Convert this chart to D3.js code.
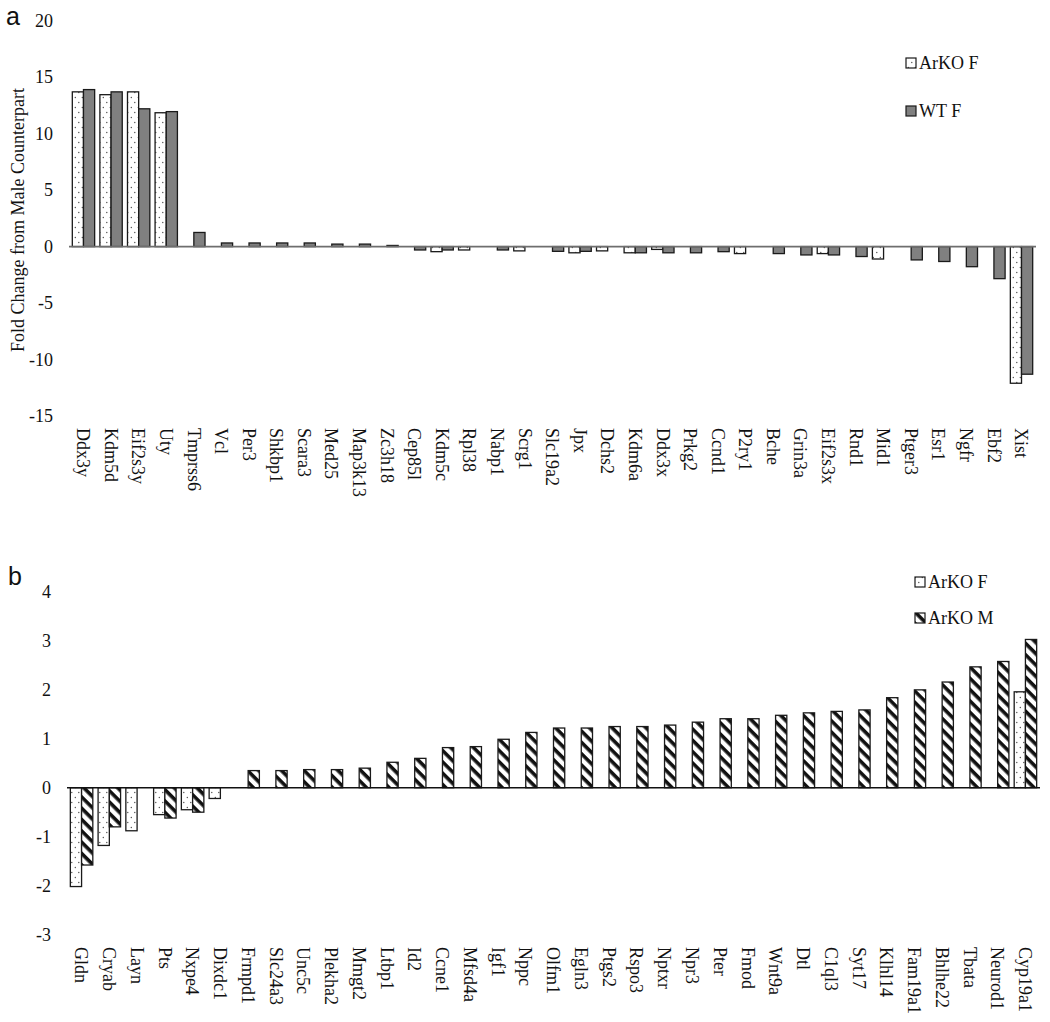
<!DOCTYPE html>
<html><head><meta charset="utf-8">
<script src="https://cdn.jsdelivr.net/npm/d3@7"></script>
<style>
body{margin:0;background:#fff}
svg text{font-family:"Liberation Serif","Times New Roman",serif;fill:#111}
svg text.letter{font-family:"Liberation Sans",Arial,sans-serif}
</style>
</head><body>
<svg id="chart" width="1050" height="1022"></svg>
<script>
// ---------- Panel a data ----------
const genesA = ["Ddx3y","Kdm5d","Eif2s3y","Uty","Tmprss6","Vcl","Per3","Shkbp1","Scara3","Med25","Map3k13","Zc3h18","Cep85l","Kdm5c","Rpl38","Nabp1","Scrg1","Slc19a2","Jpx","Dchs2","Kdm6a","Ddx3x","Prkg2","Ccnd1","P2ry1","Bche","Grin3a","Eif2s3x","Rnd1","Mid1","Ptger3","Esr1","Ngfr","Ebf2","Xist"];
const arkoF_A = [13.7,13.45,13.7,11.85,null,null,null,null,null,null,null,null,null,-0.45,-0.3,null,-0.38,null,-0.55,-0.38,-0.55,-0.25,null,null,-0.62,null,null,-0.62,null,-1.1,null,null,null,null,-12.1];
const wtF_A   = [13.9,13.7,12.2,11.95,1.25,0.32,0.32,0.32,0.32,0.22,0.22,0.1,-0.3,-0.3,null,-0.3,null,-0.42,-0.42,null,-0.55,-0.55,-0.55,-0.45,null,-0.62,-0.74,-0.74,-0.88,null,-1.18,-1.32,-1.78,-2.84,-11.3];
const ticksA = [20,15,10,5,0,-5,-10,-15];
const seriesNamesA = ["ArKO F","WT F"];

// ---------- Panel b data ----------
const genesB = ["Gldn","Cryab","Layn","Pts","Nxpe4","Dixdc1","Frmpd1","Slc24a3","Unc5c","Plekha2","Mmgt2","Ltbp1","Id2","Ccne1","Mfsd4a","Igf1","Nppc","Olfm1","Egln3","Ptgs2","Rspo3","Nptxr","Npr3","Pter","Fmod","Wnt9a","Dtl","C1ql3","Syt17","Klhl14","Fam19a1","Bhlhe22","Tbata","Neurod1","Cyp19a1"];
const arkoF_B = [-2.02,-1.18,-0.88,-0.55,-0.45,-0.22,null,null,null,null,null,null,null,null,null,null,null,null,null,null,null,null,null,null,null,null,null,null,null,null,null,null,null,null,1.96];
const arkoM_B = [-1.58,-0.8,null,-0.62,-0.5,null,0.35,0.35,0.37,0.37,0.4,0.52,0.6,0.82,0.84,0.99,1.13,1.22,1.22,1.25,1.25,1.28,1.34,1.41,1.41,1.48,1.53,1.56,1.59,1.84,2.0,2.16,2.47,2.58,3.03];
const ticksB = [4,3,2,1,0,-1,-2,-3];
const seriesNamesB = ["ArKO F","ArKO M"];

const SERIF = "'Liberation Serif','Times New Roman',serif";
const svg = d3.select("#chart");
const defs = svg.append("defs");

// dotted white pattern (ArKO F)
const pDot = defs.append("pattern").attr("id","dots").attr("patternUnits","userSpaceOnUse")
  .attr("width",7).attr("height",10);
pDot.append("rect").attr("width",7).attr("height",10).attr("fill","#fff");
pDot.append("circle").attr("cx",1.8).attr("cy",2.5).attr("r",0.65).attr("fill","#444");
pDot.append("circle").attr("cx",5.3).attr("cy",7.5).attr("r",0.65).attr("fill","#444");

// diagonal hatch pattern (ArKO M)
const pHatch = defs.append("pattern").attr("id","hatch").attr("patternUnits","userSpaceOnUse")
  .attr("width",8).attr("height",8).attr("patternTransform","rotate(45)");
pHatch.append("rect").attr("width",8).attr("height",8).attr("fill","#fff");
pHatch.append("rect").attr("y",0).attr("width",8).attr("height",3.6).attr("fill","#111");

function drawPanel(cfg){
  const g = svg.append("g");
  const x = d3.scaleBand().domain(cfg.genes).range(cfg.xRange).paddingInner(0.19).paddingOuter(0.12);
  const y = d3.scaleLinear().domain([cfg.ticks[cfg.ticks.length-1], cfg.ticks[0]]).range(cfg.yRange);
  const bw = x.bandwidth()/2;

  // y axis (labels only)
  const ya = g.append("g").attr("transform",`translate(${cfg.xRange[0]},0)`)
    .call(d3.axisLeft(y).tickValues(cfg.ticks).tickSize(0).tickPadding(16).tickFormat(d=>String(d)));
  ya.attr("font-family",SERIF).attr("font-size",18);
  ya.select(".domain").remove();
  ya.selectAll("text").attr("font-size",18).attr("font-family",SERIF).style("font-family",SERIF).attr("fill","#111");

  // bars
  cfg.series.forEach((s,si)=>{
    const data = cfg.genes.map((gn,i)=>({g:gn,v:s.values[i]})).filter(d=>d.v!==null);
    g.append("g").selectAll("rect").data(data).join("rect")
      .attr("x",d=>x(d.g)+si*bw)
      .attr("y",d=>y(Math.max(0,d.v)))
      .attr("width",bw)
      .attr("height",d=>Math.abs(y(d.v)-y(0)))
      .attr("fill",s.fill)
      .attr("stroke","#1a1a1a").attr("stroke-width",1.3);
  });

  // zero line
  g.append("line").attr("x1",cfg.xRange[0]).attr("x2",cfg.lineEnd)
    .attr("y1",y(0)).attr("y2",y(0)).attr("stroke",cfg.zeroColor).attr("stroke-width",1.6);

  // category labels
  const xa = g.append("g").attr("transform",`translate(0,${cfg.labelTop})`)
    .call(d3.axisBottom(x).tickSize(0).tickPadding(0));
  xa.attr("font-family",SERIF).attr("font-size",18);
  xa.select(".domain").remove();
  xa.selectAll("text")
    .attr("font-size",18).attr("font-family",SERIF).style("font-family",SERIF).attr("fill","#111")
    .attr("text-anchor","start").attr("transform","rotate(90)")
    .attr("x",0).attr("y",0).attr("dy","0.35em");

  // legend
  cfg.series.forEach((s,si)=>{
    const ly = cfg.legend.y[si];
    g.append("rect").attr("x",cfg.legend.x).attr("y",ly-5).attr("width",10).attr("height",10)
      .attr("fill",s.fill).attr("stroke","#1a1a1a").attr("stroke-width",1.2);
    g.append("text").attr("x",cfg.legend.x+13).attr("y",ly).attr("dy","0.35em")
      .attr("font-family",SERIF).style("font-family",SERIF)
      .attr("font-size",18).text(s.name);
  });

  // panel letter
  svg.append("text").attr("class","letter").attr("x",cfg.letter[0]).attr("y",cfg.letter[1])
    .attr("font-size",25).text(cfg.letterText);
  return {x,y};
}

drawPanel({
  genes:genesA,
  series:[{name:seriesNamesA[0],values:arkoF_A,fill:"url(#dots)"},{name:seriesNamesA[1],values:wtF_A,fill:"#808080"}],
  ticks:ticksA, yRange:[416,20.7], xRange:[69,1036], lineEnd:1036,
  zeroColor:"#6e6e6e", labelTop:428,
  legend:{x:906,y:[63,111]}, letter:[6,25], letterText:"a"
});
drawPanel({
  genes:genesB,
  series:[{name:seriesNamesB[0],values:arkoF_B,fill:"url(#dots)"},{name:seriesNamesB[1],values:arkoM_B,fill:"url(#hatch)"}],
  ticks:ticksB, yRange:[934.5,592], xRange:[67,1040], lineEnd:1040,
  zeroColor:"#111", labelTop:947,
  legend:{x:915,y:[582,618]}, letter:[8,585], letterText:"b"
});

// y-axis title panel a
svg.append("text").attr("transform","translate(18,220) rotate(-90)")
  .attr("text-anchor","middle").attr("dy","0.35em").attr("font-size",18)
  .attr("font-family",SERIF).style("font-family",SERIF)
  .text("Fold Change from Male Counterpart");
</script>
</body></html>
